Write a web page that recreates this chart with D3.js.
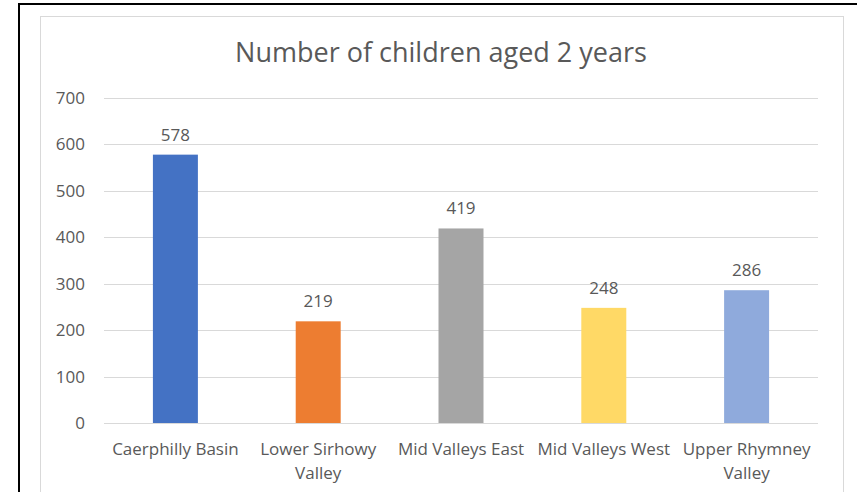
<!DOCTYPE html>
<html>
<head>
<meta charset="utf-8">
<script src="https://cdn.jsdelivr.net/npm/d3@7"></script>
<style>
  body { margin: 0; background: #fff; }
  text { font-family: "Open Sans", sans-serif; fill: #595959; }
</style>
</head>
<body>
<div id="viz"></div>
<script>
const title = 'Number of children aged 2 years';
const categories = [['Caerphilly Basin'], ['Lower Sirhowy', 'Valley'], ['Mid Valleys East'], ['Mid Valleys West'], ['Upper Rhymney', 'Valley']];
const values = [578, 219, 419, 248, 286];
const colors = ['#4472C4', '#ED7D31', '#A5A5A5', '#FFD966', '#8FAADC'];
const yTicks = [0, 100, 200, 300, 400, 500, 600, 700];

const width = 857;
const height = 492;
const plot = { left: 104, right: 818, top: 98, bottom: 423 };

const svg = d3
  .select('#viz')
  .append('svg')
  .attr('width', width)
  .attr('height', height);

// outer frame (page border) and chart area
svg.append('path')
  .attr('d', `M19,${height} V4 H${width}`)
  .attr('fill', 'none')
  .attr('stroke', '#000')
  .attr('stroke-width', 2);

svg.append('rect')
  .attr('x', 40.5)
  .attr('y', 16.5)
  .attr('width', 803)
  .attr('height', 490)
  .attr('fill', '#fff')
  .attr('stroke', '#D9D9D9');

const x = d3.scaleBand()
  .domain(d3.range(values.length))
  .range([plot.left, plot.right])
  .paddingInner(0.685)
  .paddingOuter(0.3425);

const y = d3.scaleLinear().domain([0, 700]).range([plot.bottom, plot.top]);

svg.append('text')
  .attr('x', 441)
  .attr('y', 62)
  .attr('text-anchor', 'middle')
  .style('font-size', '27px')
  .text(title);

svg.selectAll('.grid')
  .data(yTicks)
  .enter()
  .append('line')
  .attr('class', 'grid')
  .attr('x1', plot.left)
  .attr('x2', plot.right)
  .attr('y1', d => Math.round(y(d)) + 0.5)
  .attr('y2', d => Math.round(y(d)) + 0.5)
  .attr('stroke', '#D9D9D9')
  .attr('stroke-width', 1);

svg.selectAll('.ytick')
  .data(yTicks)
  .enter()
  .append('text')
  .attr('class', 'ytick')
  .attr('x', 85)
  .attr('y', d => y(d) + 6)
  .attr('text-anchor', 'end')
  .style('font-size', '17px')
  .text(d => d);

svg.selectAll('.bar')
  .data(values)
  .enter()
  .append('rect')
  .attr('class', 'bar')
  .attr('x', (d, i) => x(i))
  .attr('y', d => y(d))
  .attr('width', x.bandwidth())
  .attr('height', d => y(0) - y(d))
  .style('fill', (d, i) => colors[i]);

svg.selectAll('.label')
  .data(values)
  .enter()
  .append('text')
  .attr('class', 'label')
  .attr('x', (d, i) => x(i) + x.bandwidth() / 2)
  .attr('y', d => y(d) - 14)
  .attr('text-anchor', 'middle')
  .style('font-size', '17px')
  .text(d => d);

const cat = svg.selectAll('.cat')
  .data(categories)
  .enter()
  .append('text')
  .attr('class', 'cat')
  .attr('text-anchor', 'middle')
  .style('font-size', '17px');

cat.selectAll('tspan')
  .data((d, i) => d.map(line => ({ line, i })))
  .enter()
  .append('tspan')
  .attr('x', d => x(d.i) + x.bandwidth() / 2)
  .attr('y', (d, j) => 455 + j * 24)
  .text(d => d.line);
</script>
</body>
</html>
